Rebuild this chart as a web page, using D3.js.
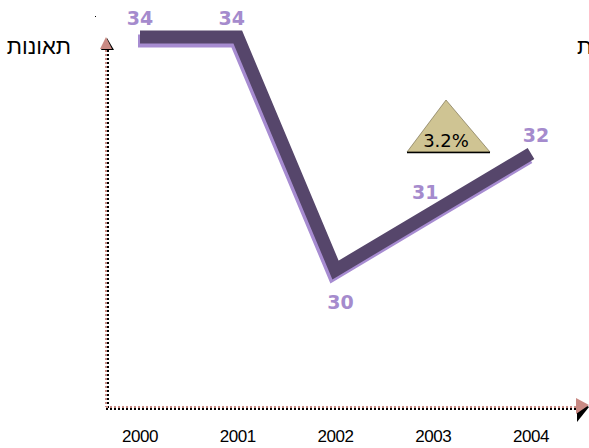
<!DOCTYPE html>
<html><head><meta charset="utf-8">
<script src="https://cdn.jsdelivr.net/npm/d3@7"></script>
<style>body{margin:0;background:#fff}svg{display:block}</style>
</head><body>
<script>
const years = ["2000","2001","2002","2003","2004"];
const accidents = [34, 34, 30, 31, 32];
const yTitle = "תאונות";
const changeLabel = "3.2%";

const W = 589, H = 448;
const svg = d3.select("body").append("svg").attr("width", W).attr("height", H);

const x = d3.scalePoint().domain(years).range([140, 531]);
const y = d3.scaleLinear().domain([30, 34]).range([270, 37]);

const darkC = "#56466b", lightC = "#a78cd1", labelC = "#a58bcd";
const pinkC = "#c98a84";

// axes (dotted)
const ax0 = 106, ay0 = 407;
svg.append("line").attr("x1", ax0+2).attr("x2", ax0+2).attr("y1", 50).attr("y2", ay0+2)
  .attr("stroke", "#000").attr("stroke-width", 2).attr("stroke-dasharray", "2,2");
svg.append("line").attr("x1", ax0).attr("x2", ax0).attr("y1", 50).attr("y2", ay0)
  .attr("stroke", pinkC).attr("stroke-width", 2).attr("stroke-dasharray", "2,2");
svg.append("line").attr("x1", ax0).attr("x2", 578).attr("y1", ay0+2).attr("y2", ay0+2)
  .attr("stroke", "#000").attr("stroke-width", 2).attr("stroke-dasharray", "2,2");
svg.append("line").attr("x1", ax0).attr("x2", 578).attr("y1", ay0).attr("y2", ay0)
  .attr("stroke", pinkC).attr("stroke-width", 2).attr("stroke-dasharray", "2,2");
// arrow heads
svg.append("path").attr("d", `M${ax0+1},38 L${ax0+8},50 L${ax0-5},50 Z`).attr("fill", "#000");
svg.append("path").attr("d", `M${ax0},37 L${ax0+6},49 L${ax0-6},49 Z`).attr("fill", pinkC);
svg.append("path").attr("d", `M589,407 L577,${ay0-7} L577,${ay0+15} Z`).attr("fill", "#000");
svg.append("path").attr("d", `M589,${ay0-2} L576,${ay0-9} L576,${ay0+7} Z`).attr("fill", pinkC);

// ribbon line
const line = d3.line().x((d,i) => x(years[i])).y(d => y(d));
svg.append("path").datum(accidents).attr("d", line)
  .attr("transform", "translate(-2,4)")
  .attr("fill", "none").attr("stroke", lightC).attr("stroke-width", 13)
  .attr("stroke-linejoin", "miter").attr("stroke-miterlimit", 10);
svg.append("path").datum(accidents).attr("d", line)
  .attr("fill", "none").attr("stroke", darkC).attr("stroke-width", 13)
  .attr("stroke-linejoin", "miter").attr("stroke-miterlimit", 10);

// value labels
const lblOff = [[0,-12],[-6,-12],[5,39],[-8,-13],[5,-12]];
svg.selectAll("text.val").data(accidents).join("text")
  .attr("class", "val")
  .attr("x", (d,i) => x(years[i]) + lblOff[i][0])
  .attr("y", (d,i) => y(d) + lblOff[i][1])
  .attr("text-anchor", "middle")
  .attr("font-family", "DejaVu Sans, Verdana, sans-serif")
  .attr("font-weight", "bold").attr("font-size", 19)
  .attr("fill", labelC).text(d => d);

// year labels
svg.selectAll("text.yr").data(years).join("text")
  .attr("class", "yr")
  .attr("x", d => x(d)).attr("y", 442)
  .attr("text-anchor", "middle")
  .attr("font-family", "Liberation Sans, Arial, sans-serif")
  .attr("font-size", 17).attr("letter-spacing", -0.5).attr("fill", "#000").text(d => d);

// titles
svg.append("text").attr("x", 71).attr("y", 54).attr("text-anchor", "end")
  .attr("font-family", "Liberation Sans, Arial, sans-serif").attr("font-size", 22)
  .attr("fill", "#000").text(yTitle);
svg.append("text").attr("x", 577).attr("y", 54).attr("text-anchor", "start")
  .attr("font-family", "Liberation Sans, Arial, sans-serif").attr("font-size", 22)
  .attr("fill", "#000").text(yTitle);

// small dot
svg.append("rect").attr("x", 95).attr("y", 16).attr("width", 1).attr("height", 1).attr("fill", "#000");

// change triangle
svg.append("path").attr("d", "M446,100 L490,152 L407,152 Z").attr("fill", "#cfc493")
  .attr("stroke", "#6b6242").attr("stroke-width", 0.6);
svg.append("line").attr("x1", 407).attr("x2", 490).attr("y1", 152.5).attr("y2", 152.5)
  .attr("stroke", "#000").attr("stroke-width", 1.5);
svg.append("text").attr("x", 446).attr("y", 147).attr("text-anchor", "middle")
  .attr("font-family", "DejaVu Sans, sans-serif").attr("font-size", 18)
  .attr("fill", "#000").text(changeLabel);
</script>
</body></html>
